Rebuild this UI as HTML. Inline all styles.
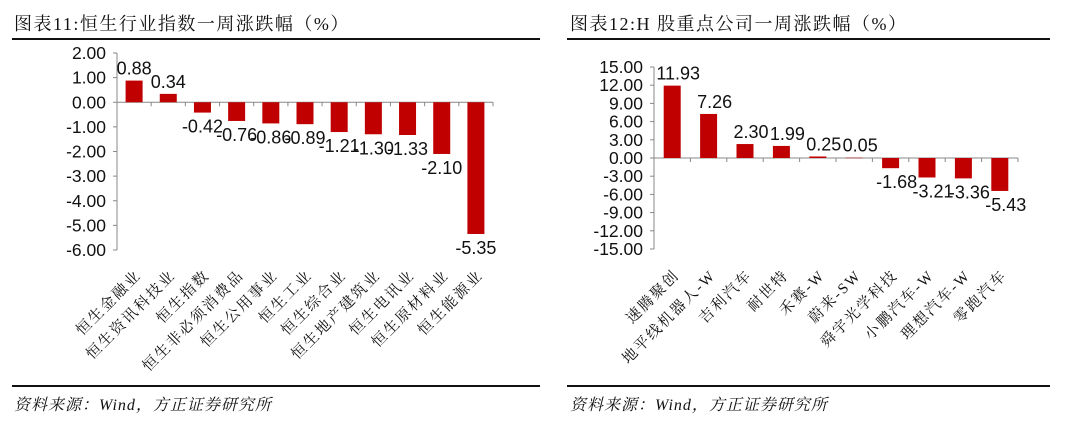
<!DOCTYPE html>
<html><head><meta charset="utf-8"><style>
body{margin:0;background:#fff;width:1080px;height:423px;overflow:hidden}
svg{display:block}
.t{font-family:"Liberation Sans","Noto Sans CJK SC",sans-serif}
.s{font-family:"Liberation Serif","Noto Serif CJK SC",serif}
</style></head><body>
<svg id="c" width="1080" height="423" viewBox="0 0 1080 423">
<text class="s" x="14" y="30" font-size="18" letter-spacing="1.5" fill="#111">图表11:恒生行业指数一周涨跌幅（%）</text>
<rect x="12" y="38" width="528" height="2" fill="#111"/>
<text class="s" x="570" y="30" font-size="18" letter-spacing="1.5" fill="#111">图表12:H 股重点公司一周涨跌幅（%）</text>
<rect x="567" y="38" width="483" height="2" fill="#111"/>
<rect x="12" y="385" width="528" height="2" fill="#111"/>
<rect x="567" y="385" width="483" height="2" fill="#111"/>
<text class="s" x="14" y="410" font-size="16" font-style="italic" letter-spacing="1" fill="#111">资料来源：Wind，方正证券研究所</text>
<text class="s" x="570" y="410" font-size="16" font-style="italic" letter-spacing="1" fill="#111">资料来源：Wind，方正证券研究所</text>
<g id="g1"></g><g id="g2"></g>
</svg>
<script>
const cats1=["恒生金融业","恒生资讯科技业","恒生指数","恒生非必须消费品","恒生公用事业","恒生工业","恒生综合业","恒生地产建筑业","恒生电讯业","恒生原材料业","恒生能源业"];
const vals1=[0.88,0.34,-0.42,-0.76,-0.86,-0.89,-1.21,-1.30,-1.33,-2.10,-5.35];
const ticks1=[2,1,0,-1,-2,-3,-4,-5,-6];
const cats2=["速腾聚创","地平线机器人-W","吉利汽车","耐世特","禾赛-W","蔚来-SW","舜宇光学科技","小鹏汽车-W","理想汽车-W","零跑汽车"];
const vals2=[11.93,7.26,2.30,1.99,0.25,0.05,-1.68,-3.21,-3.36,-5.43];
const ticks2=[15,12,9,6,3,0,-3,-6,-9,-12,-15];
const NS="http://www.w3.org/2000/svg";
function mk(p,tag,a,txt){const e=document.createElementNS(NS,tag);for(const k in a)e.setAttribute(k,a[k]);if(txt!=null)e.textContent=txt;p.appendChild(e);return e;}
function draw(g,cats,vals,ticks,o){
  const y=v=>o.y0+(o.max-v)/(o.max-o.min)*(o.y1-o.y0);
  const step=(o.x1-o.x0)/cats.length;
  const x=i=>o.x0+step*i+step/2;
  let e=mk(g,"line",{x1:o.x0,x2:o.x0,y1:y(o.max),y2:y(o.min),stroke:"#888","stroke-width":1});
  
  
  ticks.forEach(t=>{
    let l=mk(g,"line",{x1:o.x0-4,x2:o.x0,y1:y(t),y2:y(t),stroke:"#888"});
    
    
    let tx=mk(g,"text",{x:o.x0-11,y:y(t)+6,"text-anchor":"end","font-size":17.5,fill:"#111",class:"t"},t.toFixed(2));
    
    
  });
  e=mk(g,"line",{x1:o.x0,x2:o.x1,y1:y(0),y2:y(0),stroke:"#888"});
  
  
  for(let i=1;i<=cats.length;i++){
    let l=mk(g,"line",{x1:o.x0+step*i,x2:o.x0+step*i,y1:y(0),y2:y(0)+4,stroke:"#888"});
    
    
  }
  cats.forEach((c,i)=>{
    const v=vals[i],bw=17;
    let r=mk(g,"rect",{x:x(i)-bw/2,y:Math.min(y(v),y(0)),width:bw,height:Math.max(Math.abs(y(v)-y(0)),0.5),fill:"#c00000"});
    
    
    const ly=v>=0?y(v)-6:y(v)+20;
    let t=mk(g,"text",{x:x(i)+o.lx,y:ly,"text-anchor":"middle","font-size":18,fill:"#111",class:"t"},v.toFixed(2));
    
    
    let cl=mk(g,"text",{x:0,y:0,"text-anchor":"end","font-size":15,"letter-spacing":2,fill:"#111",class:"s",transform:`translate(${x(i)+8},${o.ly}) rotate(-45)`},c);
    
    
  });
}
draw(document.getElementById("g1"),cats1,vals1,ticks1,{x0:117,x1:493,y0:53,y1:250,max:2,min:-6,lx:0,ly:276});
draw(document.getElementById("g2"),cats2,vals2,ticks2,{x0:654,x1:1018,y0:67,y1:249,max:15,min:-15,lx:6,ly:276});
</script>
</body></html>
